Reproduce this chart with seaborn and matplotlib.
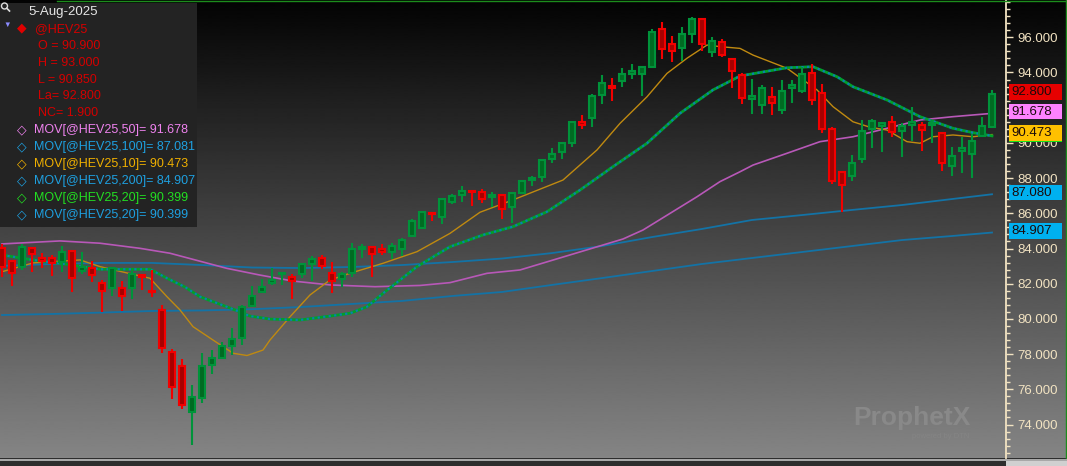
import numpy as np
import pandas as pd
import matplotlib
matplotlib.use("Agg")
import matplotlib.pyplot as plt
import seaborn as sns
from matplotlib.patches import Rectangle, Circle
from matplotlib.lines import Line2D
from matplotlib.transforms import IdentityTransform
from matplotlib.ticker import FixedLocator, MultipleLocator, FuncFormatter

# ---------------- data ----------------
opens = [84.05, 83.29, 82.93, 84.05, 83.44, 83.44, 83.25, 83.86, 82.72, 82.87,
         82.06, 81.77, 81.74, 81.74, 82.49, 81.59, 80.51, 78.12, 77.32, 74.73,
         75.49, 77.38, 77.76, 78.46, 78.90, 80.75, 81.55, 82.02, 82.53, 82.40,
         82.53, 83.12, 83.46, 82.59, 82.28, 82.59, 83.95, 84.07, 83.97, 83.82,
         83.97, 84.73, 85.15, 86.03, 85.77, 86.62, 87.04, 87.25, 87.19, 86.94,
         87.04, 86.37, 87.14, 87.89, 88.08, 89.09, 89.50, 89.98, 91.20, 91.40,
         92.72, 93.23, 93.52, 93.91, 93.90, 94.33, 96.45, 95.60, 95.37, 96.17,
         97.02, 95.18, 95.75, 94.75, 93.86, 92.49, 92.15, 92.62, 91.87, 93.10,
         92.95, 93.95, 92.82, 90.77, 88.36, 88.12, 89.09, 90.79, 90.96, 91.20,
         90.68, 91.02, 91.02, 91.02, 90.58, 88.69, 89.54, 89.37, 90.39, 90.90]
highs = [84.26, 83.35, 84.24, 84.10, 83.73, 83.63, 84.14, 83.90, 83.78, 83.31,
         82.21, 82.93, 82.15, 82.72, 82.53, 82.78, 80.79, 78.29, 77.72, 76.24,
         78.05, 78.23, 78.70, 79.47, 80.79, 81.87, 82.25, 82.87, 82.65, 82.53,
         83.16, 83.57, 83.61, 83.25, 82.66, 84.30, 84.24, 84.14, 84.24, 84.30,
         84.58, 85.66, 86.13, 86.09, 86.85, 87.10, 87.55, 87.27, 87.36, 87.19,
         87.08, 87.19, 87.89, 88.14, 89.09, 89.69, 90.03, 91.24, 91.57, 92.76,
         93.86, 93.67, 94.24, 94.47, 94.37, 96.45, 96.85, 96.07, 96.57, 97.14,
         97.05, 96.00, 95.89, 94.78, 93.95, 93.61, 93.29, 93.16, 93.57, 93.57,
         94.33, 94.48, 93.35, 90.89, 88.40, 89.31, 91.30, 91.34, 91.20, 91.53,
         91.15, 92.02, 91.20, 91.30, 90.60, 89.75, 90.32, 90.51, 91.45, 93.00]
lows = [82.40, 81.87, 82.78, 82.68, 82.87, 82.45, 82.68, 81.51, 82.57, 82.08,
        80.41, 81.32, 80.47, 81.11, 81.64, 81.26, 78.09, 75.43, 74.86, 72.84,
        75.20, 76.85, 77.70, 77.95, 78.52, 80.66, 81.45, 81.93, 81.93, 81.11,
        82.31, 82.15, 82.82, 81.49, 81.83, 82.40, 83.44, 82.40, 83.61, 83.39,
        83.57, 84.64, 85.09, 85.58, 85.39, 86.51, 86.66, 86.43, 86.60, 86.34,
        85.68, 85.47, 87.08, 87.57, 87.80, 88.87, 89.07, 89.78, 90.77, 90.92,
        92.19, 92.40, 93.19, 93.63, 92.68, 94.27, 94.77, 94.61, 94.67, 95.66,
        95.24, 94.86, 94.86, 93.10, 92.19, 91.62, 91.62, 91.59, 91.62, 92.25,
        92.82, 92.15, 90.58, 87.65, 86.09, 87.84, 88.84, 89.69, 89.47, 90.32,
        89.22, 90.12, 89.54, 89.98, 88.40, 88.12, 88.31, 87.99, 90.35, 90.85]
closes = [82.97, 82.59, 84.10, 83.69, 83.29, 83.16, 83.82, 82.34, 82.97, 82.49,
          81.59, 82.87, 81.32, 82.53, 82.40, 81.51, 78.37, 76.13, 75.11, 75.58,
          77.34, 77.76, 78.48, 78.84, 80.69, 81.32, 81.83, 82.21, 82.59, 82.15,
          83.10, 83.40, 82.98, 82.17, 82.53, 83.95, 84.07, 83.67, 83.82, 84.16,
          84.47, 85.56, 86.07, 85.94, 86.80, 87.00, 87.25, 87.19, 86.81, 87.02,
          86.23, 87.14, 87.85, 88.02, 89.03, 89.37, 89.98, 91.20, 91.02, 92.68,
          93.42, 93.14, 93.90, 94.09, 94.33, 96.28, 95.32, 95.24, 96.17, 97.02,
          95.60, 95.81, 94.99, 94.09, 92.53, 92.68, 93.10, 92.28, 92.97, 93.29,
          93.90, 92.44, 90.79, 87.84, 87.61, 88.84, 90.69, 91.26, 91.11, 90.64,
          90.96, 91.20, 90.73, 91.11, 88.87, 89.26, 89.69, 90.12, 90.98, 92.80]

# moving averages: points (bar position, value)
ma10_bar = [0.0, 3.1, 7.8, 9.8, 13.1, 14.8, 16.5, 17.8, 19.1, 21.1, 23.1, 24.5, 26.1,
            26.8, 28.8, 30.8, 32.8, 34.8, 38.1, 41.5, 44.8, 47.8, 51.1, 56.1, 59.5,
            61.8, 64.5, 66.5, 68.5, 70.5, 71.8, 73.8, 75.1, 78.5, 81.5, 83.1, 85.1,
            86.8, 88.5, 90.5, 91.8, 93.1, 95.1, 97.1, 99.0]
ma10 = [82.68, 83.18, 83.35, 82.97, 82.53, 82.31, 81.26, 80.51, 79.56, 78.80, 78.05,
        77.92, 78.23, 78.80, 80.12, 81.36, 82.21, 82.59, 83.16, 83.82, 84.86, 86.06,
        86.76, 87.89, 89.60, 91.11, 92.62, 93.95, 94.81, 95.56, 95.47, 95.37, 94.99,
        94.24, 93.01, 92.06, 91.20, 90.89, 90.73, 90.07, 89.98, 90.35, 90.45, 90.35,
        90.473]
ma20_bar = [0.0, 3.1, 6.5, 9.8, 14.8, 16.5, 18.3, 19.8, 22.8, 24.8, 26.8, 29.8, 32.8,
            34.8, 36.5, 38.1, 41.5, 44.8, 48.1, 51.1, 54.5, 57.8, 61.1, 64.5, 67.8,
            71.1, 73.8, 78.5, 81.1, 83.5, 85.1, 88.5, 91.8, 95.1, 97.1, 99.0]
ma20 = [83.63, 83.35, 83.10, 82.82, 82.82, 82.31, 81.81, 81.26, 80.62, 80.16, 79.99,
        79.94, 80.16, 80.32, 80.69, 81.45, 82.97, 84.10, 84.77, 85.24, 86.09, 87.32,
        88.65, 89.98, 91.68, 93.01, 93.80, 94.27, 94.33, 93.76, 93.19, 92.44, 91.49,
        90.83, 90.58, 90.399]
ma50_bar = [0.0, 5.8, 9.8, 13.8, 16.8, 22.5, 25.8, 29.1, 32.8, 37.3, 41.8, 44.8, 48.5,
            51.8, 62.1, 64.1, 69.5, 71.8, 73.8, 75.1, 78.5, 81.8, 85.1, 88.5, 91.8,
            95.1, 99.0]
ma50 = [84.26, 84.43, 84.30, 84.01, 83.73, 82.87, 82.49, 82.15, 81.93, 81.83, 81.90,
        82.06, 82.59, 82.78, 84.54, 85.05, 86.94, 87.80, 88.36, 88.74, 89.41, 90.07,
        90.35, 90.83, 91.30, 91.49, 91.678]
ma_long_bar = [0, 5, 10, 15, 20, 25, 30, 35, 40, 45, 50, 55, 60, 65, 70, 75, 80, 85,
               90, 95, 99]
ma100 = [83.01, 83.12, 83.18, 83.18, 83.06, 82.92, 82.89, 82.95, 83.06, 83.23, 83.43,
         83.74, 84.14, 84.65, 85.11, 85.62, 85.90, 86.19, 86.47, 86.81, 87.081]
ma200 = [80.22, 80.28, 80.36, 80.45, 80.48, 80.55, 80.68, 80.85, 81.02, 81.30, 81.53,
         81.93, 82.32, 82.72, 83.12, 83.46, 83.80, 84.14, 84.48, 84.71, 84.907]

y_ticks = [74, 76, 78, 80, 82, 84, 86, 88, 90, 92, 94, 96]
hidden_tick_labels = [92]  # covered by the price tags in the reference

header_date = "5-Aug-2025"
symbol = "@HEV25"
ohlc_lines = ["O = 90.900", "H = 93.000", "L = 90.850", "La= 92.800", "NC= 1.900"]
legend_labels = ["MOV[@HEV25,50]= 91.678", "MOV[@HEV25,100]= 87.081",
                 "MOV[@HEV25,10]= 90.473", "MOV[@HEV25,200]= 84.907",
                 "MOV[@HEV25,20]= 90.399", "MOV[@HEV25,20]= 90.399"]
legend_colors = ["#ee82ee", "#1ea0e0", "#f0b000", "#1ea0e0", "#22e022", "#1ea0e0"]

tag_values = [92.800, 91.678, 90.473, 87.080, 84.907]
tag_colors = ["#e60000", "#ff82ff", "#ffc000", "#00b0f0", "#00b0f0"]
hidden_tag_value = 90.399  # MA20 tag mostly hidden behind the MA10 tag

# ---------------- figure ----------------
plt.rcParams['font.family'] = ['Liberation Sans', 'DejaVu Sans']
W, H = 1067, 466
fig = plt.figure(figsize=(W / 100, H / 100), dpi=100)
fig.patch.set_facecolor('#2d2d2d')


def fx(x):
    return x / W


def fy(y):
    return 1 - y / H


# gradient background
bg = fig.add_axes([0, 0, 1, 1], zorder=-10)
bg.set_axis_off()
grad = np.linspace(0.012, 0.52, 400).reshape(-1, 1)
bg.imshow(grad, aspect='auto', cmap='gray', vmin=0, vmax=1,
          extent=[0, 1, 8 / H, 1], origin='upper', interpolation='bilinear')
bg.set_xlim(0, 1)
bg.set_ylim(0, 1)

ax = fig.add_axes([0, 8 / H, 1006 / W, 458 / H])
ax.set_facecolor('none')

o = np.array(opens)
c = np.array(closes)
hi = np.array(highs)
lo = np.array(lows)
idx = np.arange(len(o))
up = c >= o
edge = np.where(up, '#00933a', '#f20000')
fill = np.where(up, '#006b22', '#a60000')

# moving averages (seaborn)
d_long = pd.DataFrame({'bar': ma_long_bar, 'MA100': ma100, 'MA200': ma200})
d10 = pd.DataFrame({'bar': ma10_bar, 'MA10': ma10})
d20 = pd.DataFrame({'bar': ma20_bar, 'MA20': ma20})
d50 = pd.DataFrame({'bar': ma50_bar, 'MA50': ma50})
sns.lineplot(data=d_long, x='bar', y='MA200', ax=ax, color='#1373a6', lw=1.3, zorder=1)
sns.lineplot(data=d_long, x='bar', y='MA100', ax=ax, color='#1373a6', lw=1.3, zorder=1)
sns.lineplot(data=d50, x='bar', y='MA50', ax=ax, color='#b858b8', lw=1.2, zorder=1)
sns.lineplot(data=d10, x='bar', y='MA10', ax=ax, color='#c08a10', lw=1.0, zorder=1)
sns.lineplot(data=d20, x='bar', y='MA20', ax=ax, color='#00a02a', lw=2.0, zorder=1)
sns.lineplot(data=d20, x='bar', y='MA20', ax=ax, color='#0a7fb0', lw=1.6, zorder=1,
             linestyle=(0, (1, 1.5)))

# candles
ax.vlines(idx, lo, hi, colors=edge, lw=1.5, zorder=2)
ax.bar(idx, c - o, bottom=o, width=0.6, color=fill, edgecolor=edge,
       linewidth=1.5, zorder=3)

ax.set_xlabel('')
ax.set_ylabel('')
ax.set_xlim(-0.2, 100.4)
ax.set_ylim(72.097, 98.119)
for s in ['top', 'left', 'bottom']:
    ax.spines[s].set_visible(False)
ax.spines['right'].set_color('#f2e3c2')
ax.spines['right'].set_linewidth(1.3)
ax.yaxis.tick_right()
ax.yaxis.set_major_locator(FixedLocator(y_ticks))
ax.yaxis.set_minor_locator(MultipleLocator(0.4))
ax.yaxis.set_major_formatter(FuncFormatter(
    lambda v, p: '' if round(v) in hidden_tick_labels else f'{v:.3f}'))
ax.tick_params(axis='y', which='major', colors='#f2e3c2', length=5, width=1,
               pad=3, labelsize=9.5)
ax.tick_params(axis='y', which='minor', colors='#f2e3c2', length=3, width=1)
ax.set_xticks([])
ax.grid(False)


# price tags on the right axis
def tag(v, color, text):
    yd = ax.transData.transform((0, v))[1] + 1.6
    fig.add_artist(Rectangle((fx(1009), (yd - 7.7) / H), 53 / W, 15.4 / H,
                             transform=fig.transFigure, facecolor=color,
                             edgecolor='none', zorder=5))
    if text:
        fig.text(fx(1011), yd / H, text, color='#1a0a0a', fontsize=9.5,
                 va='center', ha='left', zorder=6)


tag(hidden_tag_value, '#18e018', '')
for v, col in zip(tag_values, tag_colors):
    tag(v, col, f'{v:.3f}')

# legend panel
fig.add_artist(Rectangle((0, fy(227)), 197 / W, 224 / H, transform=fig.transFigure,
                         facecolor='#232323', edgecolor='none', zorder=3))
fig.add_artist(Circle((4.5, H - 6), 3.0, transform=IdentityTransform(), fill=False,
                      ec='#dddddd', lw=1, zorder=4))
fig.add_artist(Line2D([6.8, 9.5], [H - 8.3, H - 11], transform=IdentityTransform(),
                      color='#dddddd', lw=1.2, zorder=4))
fig.text(fx(28), fy(12), header_date, color='#e6e6e6', fontsize=9.5, va='center', zorder=4)
fig.text(fx(7), fy(25), '▼', color='#8c8cff', fontsize=5.5, va='center', ha='center', zorder=4)
fig.text(fx(22), fy(28), '◆', color='#e00000', fontsize=9, va='center', ha='center', zorder=4)
fig.text(fx(35), fy(29), symbol, color='#d40000', fontsize=9, va='center', zorder=4)
for i, t in enumerate(ohlc_lines):
    fig.text(fx(38), fy(46 + i * 16.8), t, color='#d40000', fontsize=9, va='center', zorder=4)
for i, (t, col) in enumerate(zip(legend_labels, legend_colors)):
    yy = 130 + i * 17
    fig.text(fx(22), fy(yy), '◇', color=col, fontsize=9, va='center', ha='center', zorder=4)
    fig.text(fx(34.5), fy(yy), t, color=col, fontsize=9, va='center', zorder=4)

# window frame / scrollbar
fig.add_artist(Line2D([fx(57), 1], [fy(1), fy(1)], transform=fig.transFigure,
                      color='#1c8c1c', lw=1, zorder=6))
fig.add_artist(Line2D([fx(1065.5), fx(1065.5)], [fy(0), fy(459)], transform=fig.transFigure,
                      color='#1c8c1c', lw=1, zorder=6))
fig.add_artist(Rectangle((0, 0), 1, 7 / H, transform=fig.transFigure,
                         facecolor='#a8a8a8', edgecolor='none', zorder=6))
fig.add_artist(Rectangle((0, 0), 1, 5 / H, transform=fig.transFigure,
                         facecolor='#2d2d2d', edgecolor='none', zorder=6))
fig.add_artist(Rectangle((fx(1006), 0), 61 / W, 5 / H, transform=fig.transFigure,
                         facecolor='#d0d0d0', edgecolor='none', zorder=6))

# watermark
fig.text(fx(853), fy(418), 'ProphetX', color='#898989', fontsize=19,
         fontweight='bold', va='center', zorder=2)
fig.text(fx(912), fy(437), 'powered by DTN', color='#858585', fontsize=5.5,
         va='center', zorder=2)

fig.savefig('out.png', dpi=100, facecolor=fig.get_facecolor())
